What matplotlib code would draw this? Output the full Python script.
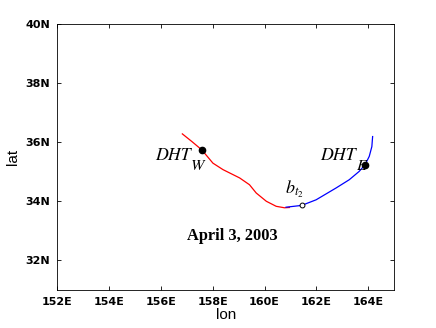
import numpy as np
import matplotlib
matplotlib.use("Agg")
import matplotlib.pyplot as plt

# track of the western (red) and eastern (blue) branches
lon_w = [156.83, 157.20, 157.58, 158.01, 158.40, 159.04, 159.42, 159.68, 160.07, 160.45, 160.77, 160.96]
lat_w = [36.28, 36.02, 35.74, 35.29, 35.07, 34.79, 34.56, 34.28, 34.00, 33.83, 33.78, 33.79]
lon_e = [160.83, 161.43, 161.99, 162.76, 163.27, 163.65, 163.88, 164.04, 164.14, 164.17]
lat_e = [33.80, 33.86, 34.05, 34.45, 34.73, 35.01, 35.24, 35.52, 35.85, 36.19]

dht_w = (157.58, 35.74)
dht_e = (163.88, 35.24)
b_pt = (161.43, 33.86)

xticks = [152, 154, 156, 158, 160, 162, 164]
yticks = [32, 34, 36, 38, 40]

plt.rcParams['mathtext.fontset'] = 'stix'

fig = plt.figure(figsize=(4.36, 3.28), dpi=100)
ax = fig.add_axes([0.131, 0.116, 0.773, 0.811])

ax.plot(lon_w, lat_w, color='red', lw=0.9)
ax.plot(lon_e, lat_e, color='blue', lw=0.9)
ax.plot(*dht_w, 'o', color='black', ms=4.5)
ax.plot(*dht_e, 'o', color='black', ms=4.5)
ax.plot(*b_pt, 'o', mfc='white', mec='black', ms=3.5, mew=0.7)

# MATLAB-style labels: big lowered subscripts, hung off the end of "DHT"
lab = dict(family='STIXGeneral', style='italic')
tw = ax.text(155.78, 35.41, 'DHT', fontsize=12.8, ha='left', va='baseline', **lab)
te = ax.text(162.13, 35.41, 'DHT', fontsize=12.8, ha='left', va='baseline', **lab)
for t, s in [(tw, 'W'), (te, 'E')]:
    ax.annotate(s, xy=(1, 0), xycoords=t, xytext=(0.3, -4.5), textcoords='offset points',
                fontsize=11.5, ha='left', va='baseline', **lab)
ax.text(160.80, 34.26, r'$b_{t_2}$', fontsize=13, ha='left', va='baseline')
ax.text(158.77, 32.82, 'April 3, 2003', fontsize=11.8, family='Liberation Serif',
        weight='bold', ha='center', va='center')

ax.set_xlim(152, 165)
ax.set_ylim(31, 40)
ax.set_xticks(xticks)
ax.set_xticklabels(['%dE' % v for v in xticks])
ax.set_yticks(yticks)
ax.set_yticklabels(['%dN' % v for v in yticks])
ax.tick_params(direction='in', length=3, width=0.6, top=True, right=True,
               labelsize=8, pad=5)
for t in ax.get_xticklabels() + ax.get_yticklabels():
    t.set_fontweight('bold')
for sp in ax.spines.values():
    sp.set_linewidth(0.6)

ax.set_xlabel('lon', fontsize=11, family='Liberation Sans', labelpad=1)
ax.set_ylabel('lat', fontsize=11, family='Liberation Sans', labelpad=4)

fig.savefig('out.png', dpi=100)
